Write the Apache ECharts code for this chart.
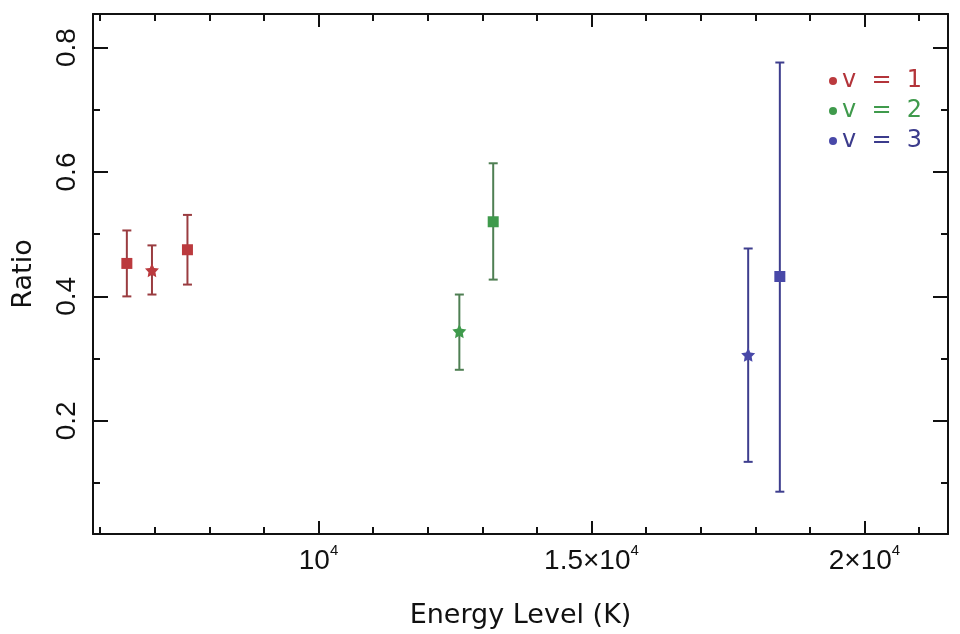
<!DOCTYPE html>
<html>
<head>
<meta charset="utf-8">
<script src="https://cdn.jsdelivr.net/npm/echarts@6/dist/echarts.min.js"></script>
<style>html,body{margin:0;padding:0;background:#fff}#c{width:960px;height:634px}</style>
</head>
<body>
<div id="c"></div>
<script>
// ---- data ----
const seriesNames = ['v = 1', 'v = 2', 'v = 3'];
const v1Energy = [6490, 6950, 7600];
const v1Ratio  = [0.453, 0.442, 0.475];
const v1Low    = [0.400, 0.403, 0.419];
const v1High   = [0.506, 0.482, 0.531];
const v1Shape  = ['square', 'star', 'square'];

const v2Energy = [12580, 13200];
const v2Ratio  = [0.344, 0.520];
const v2Low    = [0.282, 0.427];
const v2High   = [0.403, 0.614];
const v2Shape  = ['star', 'square'];

const v3Energy = [17870, 18450];
const v3Ratio  = [0.306, 0.432];
const v3Low    = [0.134, 0.086];
const v3High   = [0.477, 0.776];
const v3Shape  = ['star', 'square'];

const xMajorTicks = [10000, 15000, 20000];
const xTickBases  = ['10', '1.5×10', '2×10'];
const xTickExp    = '4';
const xMinorTicks = [6000, 7000, 8000, 9000, 11000, 12000, 13000, 14000, 16000, 17000, 18000, 19000, 21000];
const yMajorTicks = [0.2, 0.4, 0.6, 0.8];
const yMinorTicks = [0.1, 0.3, 0.5, 0.7];
const xRange = [5870, 21530];
const yRange = [0.018, 0.854];

// ---- styling ----
const markerColors = ['#bb3a3e', '#3f9a4c', '#4848a8'];
const barColors    = ['#9a3c40', '#4f7f53', '#3e3e8e'];
const textColors   = ['#b3343a', '#3f9a4c', '#3b3b8c'];
const STAR = 'path://M50,0 L64.7,29.8 L97.6,34.5 L73.8,57.7 L79.4,90.5 L50,75 L20.6,90.5 L26.2,57.7 L2.4,34.5 L35.3,29.8 Z';
const FONT = 'Liberation Sans';
const FONT2 = 'DejaVu Sans';

const groups = [
  [v1Energy, v1Ratio, v1Low, v1High, v1Shape],
  [v2Energy, v2Ratio, v2Low, v2High, v2Shape],
  [v3Energy, v3Ratio, v3Low, v3High, v3Shape]
];

function xAxisDef(pos, major, showLine, showLabel) {
  return {
    type: 'value', position: pos, min: xRange[0], max: xRange[1],
    axisLine: { show: showLine, onZero: false, lineStyle: { color: '#111', width: 2 } },
    axisTick: { show: true, inside: true, length: major ? 13 : 7, customValues: major ? xMajorTicks : xMinorTicks,
      lineStyle: { color: '#111', width: 2 } },
    axisLabel: showLabel ? {
      show: true, customValues: xMajorTicks, margin: 9, fontSize: 28, fontFamily: FONT,
      formatter: function (v) {
        const i = xMajorTicks.indexOf(v);
        return i < 0 ? '' : '{b|' + xTickBases[i] + '}{s|' + xTickExp + '}';
      },
      rich: {
        b: { fontSize: 28, fontFamily: FONT, color: '#111', lineHeight: 32, verticalAlign: 'bottom' },
        s: { fontSize: 15, fontFamily: FONT, color: '#111', lineHeight: 32, verticalAlign: 'top' }
      }
    } : { show: false },
    splitLine: { show: false }
  };
}
function yAxisDef(pos, major, showLine, showLabel) {
  return {
    type: 'value', position: pos, min: yRange[0], max: yRange[1],
    axisLine: { show: showLine, onZero: false, lineStyle: { color: '#111', width: 2 } },
    axisTick: { show: true, inside: true, length: major ? 15 : 7, customValues: major ? yMajorTicks : yMinorTicks,
      lineStyle: { color: '#111', width: 2 } },
    axisLabel: showLabel ? {
      show: true, customValues: yMajorTicks, rotate: 90, margin: 12,
      fontSize: 28, fontFamily: FONT, color: '#111',
      formatter: v => String(v)
    } : { show: false },
    splitLine: { show: false }
  };
}

const xAxes = [
  Object.assign(xAxisDef('bottom', true, true, true), {
    name: 'Energy Level (K)', nameLocation: 'middle', nameGap: 68,
    nameTextStyle: { fontSize: 27, fontFamily: FONT2, color: '#111' }
  }),
  xAxisDef('bottom', false, false, false),
  xAxisDef('top', true, true, false),
  xAxisDef('top', false, false, false)
];
const yAxes = [
  Object.assign(yAxisDef('left', true, true, true), {
    name: 'Ratio', nameLocation: 'middle', nameGap: 56,
    nameTextStyle: { fontSize: 27, fontFamily: FONT2, color: '#111' }
  }),
  yAxisDef('left', false, false, false),
  yAxisDef('right', true, true, false),
  yAxisDef('right', false, false, false)
];

const series = [];
groups.forEach(function (g, k) {
  const [en, ra, lo, hi, sh] = g;
  series.push({
    type: 'custom', name: seriesNames[k] + ' err', xAxisIndex: 0, yAxisIndex: 0, z: 2,
    data: en.map((e, i) => [e, lo[i], hi[i]]),
    renderItem: function (params, api) {
      const pLo = api.coord([api.value(0), api.value(1)]);
      const pHi = api.coord([api.value(0), api.value(2)]);
      const hw = 4.5;
      const st = { stroke: barColors[k], lineWidth: 2 };
      return { type: 'group', children: [
        { type: 'line', shape: { x1: pLo[0], y1: pLo[1], x2: pHi[0], y2: pHi[1] }, style: st },
        { type: 'line', shape: { x1: pLo[0] - hw, y1: pLo[1], x2: pLo[0] + hw, y2: pLo[1] }, style: st },
        { type: 'line', shape: { x1: pHi[0] - hw, y1: pHi[1], x2: pHi[0] + hw, y2: pHi[1] }, style: st }
      ] };
    },
    silent: true
  });
  series.push({
    type: 'scatter', name: seriesNames[k], xAxisIndex: 0, yAxisIndex: 0, z: 3,
    itemStyle: { color: markerColors[k], opacity: 1 },
    data: en.map((e, i) => ({
      value: [e, ra[i]],
      symbol: sh[i] === 'star' ? STAR : 'rect',
      symbolSize: sh[i] === 'star' ? 14 : 11
    }))
  });
});

const chart = echarts.init(document.getElementById('c'), null, { renderer: 'canvas' });
chart.setOption({
  animation: false,
  backgroundColor: '#ffffff',
  grid: { left: 93, right: 12, top: 14, bottom: 97, containLabel: false },
  legend: {
    orient: 'vertical', left: 824, top: 64, itemGap: 6,
    icon: 'circle', itemWidth: 8, itemHeight: 8,
    formatter: n => n.replace(/ /g, '  '),
    data: seriesNames.map((n, k) => ({ name: n, textStyle: { color: textColors[k], fontSize: 24, fontFamily: FONT2 } })),
    textStyle: { fontSize: 24, fontFamily: FONT2 },
    selectedMode: false
  },
  xAxis: xAxes,
  yAxis: yAxes,
  series: series
});
</script>
</body>
</html>
